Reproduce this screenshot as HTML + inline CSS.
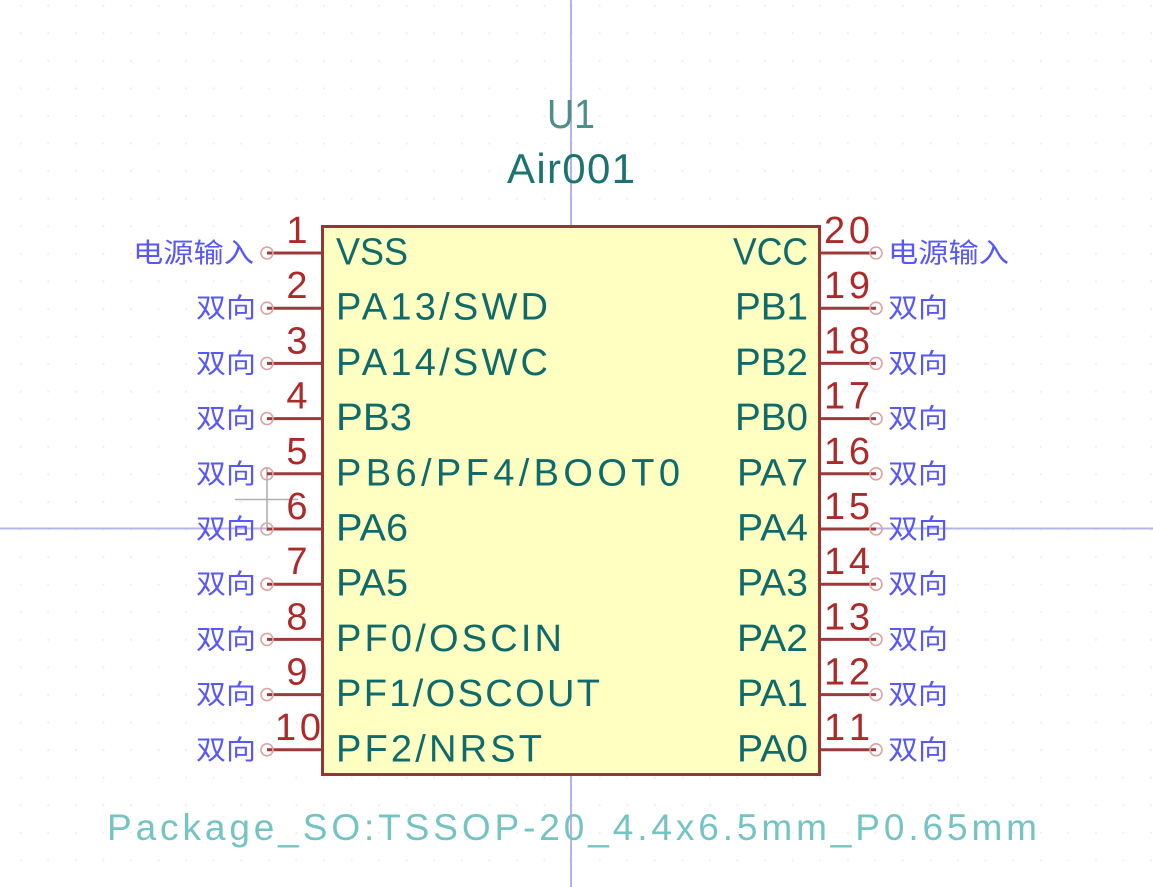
<!DOCTYPE html>
<html>
<head>
<meta charset="utf-8">
<style>
html,body{margin:0;padding:0;background:#ffffff;}
body{width:1153px;height:887px;overflow:hidden;}
svg{display:block;}
.pn{font-family:"Liberation Sans",sans-serif;font-size:38px;fill:#0f6b6b;}
.num{font-family:"Liberation Sans",sans-serif;font-size:38px;fill:#ad2a2a;}
.et{font-family:"Liberation Sans","Noto Sans CJK SC",sans-serif;font-size:27px;fill:#5858f8;}
</style>
</head>
<body>
<svg width="1153" height="887" viewBox="0 0 1153 887" xmlns="http://www.w3.org/2000/svg">
<defs>
<pattern id="g" x="19.7" y="4.7" width="27.57" height="27.57" patternUnits="userSpaceOnUse">
<rect x="0" y="0" width="2" height="2" fill="#f0f0f0"/>
</pattern>
</defs>
<rect width="1153" height="887" fill="#ffffff"/>
<rect width="1153" height="887" fill="url(#g)"/>

<!-- crosshair lines -->
<line x1="571" y1="0" x2="571" y2="887" stroke="#b4b4e8" stroke-width="2"/>
<line x1="0" y1="528.5" x2="1153" y2="528.5" stroke="#b4b4e8" stroke-width="2"/>

<!-- grey cursor -->
<line x1="267" y1="468" x2="267" y2="531" stroke="#b0b0b0" stroke-width="1.6"/>
<line x1="235" y1="499.5" x2="298" y2="499.5" stroke="#b0b0b0" stroke-width="1.6"/>

<!-- reference / value -->
<text x="571" y="128" text-anchor="middle" font-family="Liberation Sans, sans-serif" font-size="41" fill="#4f8c8c" textLength="48" lengthAdjust="spacingAndGlyphs">U1</text>
<text x="571" y="183" text-anchor="middle" font-family="Liberation Sans, sans-serif" font-size="42" fill="#1d7272" textLength="128" lengthAdjust="spacing">Air001</text>

<!-- body -->
<rect x="322.5" y="226.5" width="497" height="548" fill="#ffffc2" stroke="#963535" stroke-width="3"/>

<!-- pins -->
<g stroke="#9c3a3a" stroke-width="3">
<line x1="267" y1="253" x2="322" y2="253"/>
<line x1="267" y1="308.2" x2="322" y2="308.2"/>
<line x1="267" y1="363.4" x2="322" y2="363.4"/>
<line x1="267" y1="418.6" x2="322" y2="418.6"/>
<line x1="267" y1="473.8" x2="322" y2="473.8"/>
<line x1="267" y1="529" x2="322" y2="529"/>
<line x1="267" y1="584.2" x2="322" y2="584.2"/>
<line x1="267" y1="639.4" x2="322" y2="639.4"/>
<line x1="267" y1="694.6" x2="322" y2="694.6"/>
<line x1="267" y1="749.8" x2="322" y2="749.8"/>
<line x1="821" y1="253" x2="876" y2="253"/>
<line x1="821" y1="308.2" x2="876" y2="308.2"/>
<line x1="821" y1="363.4" x2="876" y2="363.4"/>
<line x1="821" y1="418.6" x2="876" y2="418.6"/>
<line x1="821" y1="473.8" x2="876" y2="473.8"/>
<line x1="821" y1="529" x2="876" y2="529"/>
<line x1="821" y1="584.2" x2="876" y2="584.2"/>
<line x1="821" y1="639.4" x2="876" y2="639.4"/>
<line x1="821" y1="694.6" x2="876" y2="694.6"/>
<line x1="821" y1="749.8" x2="876" y2="749.8"/>
</g>
<g fill="none" stroke="#dea3a3" stroke-width="1.6">
<circle cx="267" cy="253" r="6"/>
<circle cx="267" cy="308.2" r="6"/>
<circle cx="267" cy="363.4" r="6"/>
<circle cx="267" cy="418.6" r="6"/>
<circle cx="267" cy="473.8" r="6"/>
<circle cx="267" cy="529" r="6"/>
<circle cx="267" cy="584.2" r="6"/>
<circle cx="267" cy="639.4" r="6"/>
<circle cx="267" cy="694.6" r="6"/>
<circle cx="267" cy="749.8" r="6"/>
<circle cx="876" cy="253" r="6"/>
<circle cx="876" cy="308.2" r="6"/>
<circle cx="876" cy="363.4" r="6"/>
<circle cx="876" cy="418.6" r="6"/>
<circle cx="876" cy="473.8" r="6"/>
<circle cx="876" cy="529" r="6"/>
<circle cx="876" cy="584.2" r="6"/>
<circle cx="876" cy="639.4" r="6"/>
<circle cx="876" cy="694.6" r="6"/>
<circle cx="876" cy="749.8" r="6"/>
</g>

<!-- left pin names -->
<text class="pn" x="336" y="264.5" textLength="72" lengthAdjust="spacingAndGlyphs">VSS</text>
<text class="pn" x="336" y="319.7" textLength="212" lengthAdjust="spacing">PA13/SWD</text>
<text class="pn" x="336" y="374.9" textLength="212" lengthAdjust="spacing">PA14/SWC</text>
<text class="pn" x="336" y="430.1" textLength="76" lengthAdjust="spacingAndGlyphs">PB3</text>
<text class="pn" x="336" y="485.3" textLength="344" lengthAdjust="spacing">PB6/PF4/BOOT0</text>
<text class="pn" x="336" y="540.5" textLength="72" lengthAdjust="spacingAndGlyphs">PA6</text>
<text class="pn" x="336" y="595.7" textLength="72" lengthAdjust="spacingAndGlyphs">PA5</text>
<text class="pn" x="336" y="650.9" textLength="226" lengthAdjust="spacing">PF0/OSCIN</text>
<text class="pn" x="336" y="706.1" textLength="264" lengthAdjust="spacing">PF1/OSCOUT</text>
<text class="pn" x="336" y="761.3" textLength="206" lengthAdjust="spacing">PF2/NRST</text>

<!-- right pin names -->
<text class="pn" x="733" y="264.5" textLength="75" lengthAdjust="spacingAndGlyphs">VCC</text>
<text class="pn" x="735" y="319.7" textLength="73" lengthAdjust="spacingAndGlyphs">PB1</text>
<text class="pn" x="735" y="374.9" textLength="73" lengthAdjust="spacingAndGlyphs">PB2</text>
<text class="pn" x="735" y="430.1" textLength="73" lengthAdjust="spacingAndGlyphs">PB0</text>
<text class="pn" x="737" y="485.3" textLength="71" lengthAdjust="spacingAndGlyphs">PA7</text>
<text class="pn" x="737" y="540.5" textLength="71" lengthAdjust="spacingAndGlyphs">PA4</text>
<text class="pn" x="737" y="595.7" textLength="71" lengthAdjust="spacingAndGlyphs">PA3</text>
<text class="pn" x="737" y="650.9" textLength="71" lengthAdjust="spacingAndGlyphs">PA2</text>
<text class="pn" x="737" y="706.1" textLength="71" lengthAdjust="spacingAndGlyphs">PA1</text>
<text class="pn" x="737" y="761.3" textLength="71" lengthAdjust="spacingAndGlyphs">PA0</text>

<!-- left pin numbers -->
<text class="num" x="297" y="243" text-anchor="middle">1</text>
<text class="num" x="297" y="298.2" text-anchor="middle">2</text>
<text class="num" x="297" y="353.4" text-anchor="middle">3</text>
<text class="num" x="297" y="408.6" text-anchor="middle">4</text>
<text class="num" x="297" y="463.8" text-anchor="middle">5</text>
<text class="num" x="297" y="519" text-anchor="middle">6</text>
<text class="num" x="297" y="574.2" text-anchor="middle">7</text>
<text class="num" x="297" y="629.4" text-anchor="middle">8</text>
<text class="num" x="297" y="684.6" text-anchor="middle">9</text>
<text class="num" x="275" y="739.8" textLength="46" lengthAdjust="spacing">10</text>

<!-- right pin numbers -->
<text class="num" x="824" y="243" textLength="46" lengthAdjust="spacing">20</text>
<text class="num" x="824" y="298.2" textLength="46" lengthAdjust="spacing">19</text>
<text class="num" x="824" y="353.4" textLength="46" lengthAdjust="spacing">18</text>
<text class="num" x="824" y="408.6" textLength="46" lengthAdjust="spacing">17</text>
<text class="num" x="824" y="463.8" textLength="46" lengthAdjust="spacing">16</text>
<text class="num" x="824" y="519" textLength="46" lengthAdjust="spacing">15</text>
<text class="num" x="824" y="574.2" textLength="46" lengthAdjust="spacing">14</text>
<text class="num" x="824" y="629.4" textLength="46" lengthAdjust="spacing">13</text>
<text class="num" x="824" y="684.6" textLength="46" lengthAdjust="spacing">12</text>
<text class="num" x="824" y="739.8" textLength="46" lengthAdjust="spacing">11</text>

<!-- left electrical types -->
<text class="et" x="133" y="262.5" textLength="121" lengthAdjust="spacingAndGlyphs">电源输入</text>
<text class="et" x="196" y="317.7" textLength="60" lengthAdjust="spacingAndGlyphs">双向</text>
<text class="et" x="196" y="372.9" textLength="60" lengthAdjust="spacingAndGlyphs">双向</text>
<text class="et" x="196" y="428.1" textLength="60" lengthAdjust="spacingAndGlyphs">双向</text>
<text class="et" x="196" y="483.3" textLength="60" lengthAdjust="spacingAndGlyphs">双向</text>
<text class="et" x="196" y="538.5" textLength="60" lengthAdjust="spacingAndGlyphs">双向</text>
<text class="et" x="196" y="593.7" textLength="60" lengthAdjust="spacingAndGlyphs">双向</text>
<text class="et" x="196" y="648.9" textLength="60" lengthAdjust="spacingAndGlyphs">双向</text>
<text class="et" x="196" y="704.1" textLength="60" lengthAdjust="spacingAndGlyphs">双向</text>
<text class="et" x="196" y="759.3" textLength="60" lengthAdjust="spacingAndGlyphs">双向</text>

<!-- right electrical types -->
<text class="et" x="888" y="262.5" textLength="121" lengthAdjust="spacingAndGlyphs">电源输入</text>
<text class="et" x="888" y="317.7" textLength="60" lengthAdjust="spacingAndGlyphs">双向</text>
<text class="et" x="888" y="372.9" textLength="60" lengthAdjust="spacingAndGlyphs">双向</text>
<text class="et" x="888" y="428.1" textLength="60" lengthAdjust="spacingAndGlyphs">双向</text>
<text class="et" x="888" y="483.3" textLength="60" lengthAdjust="spacingAndGlyphs">双向</text>
<text class="et" x="888" y="538.5" textLength="60" lengthAdjust="spacingAndGlyphs">双向</text>
<text class="et" x="888" y="593.7" textLength="60" lengthAdjust="spacingAndGlyphs">双向</text>
<text class="et" x="888" y="648.9" textLength="60" lengthAdjust="spacingAndGlyphs">双向</text>
<text class="et" x="888" y="704.1" textLength="60" lengthAdjust="spacingAndGlyphs">双向</text>
<text class="et" x="888" y="759.3" textLength="60" lengthAdjust="spacingAndGlyphs">双向</text>

<!-- footprint -->
<text x="107" y="840" font-family="Liberation Sans, sans-serif" font-size="37" fill="#76c3c3" textLength="930" lengthAdjust="spacing">Package_SO:TSSOP-20_4.4x6.5mm_P0.65mm</text>
</svg>
</body>
</html>
